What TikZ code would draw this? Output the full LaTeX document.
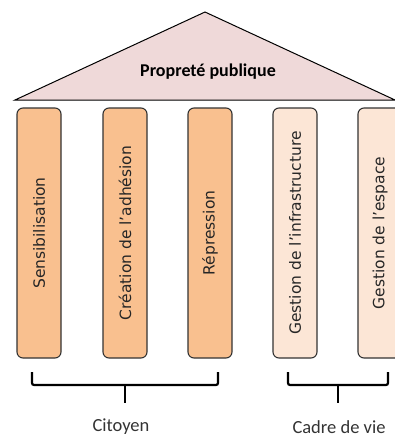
\documentclass[tikz,border=0pt]{standalone}
\usepackage{fontspec}
\setmainfont{Carlito}
\newfontfamily\pilierfont{DejaVu Sans}
\definecolor{toit}{HTML}{EFD9D9}
\definecolor{orangefonce}{HTML}{F9C08F}
\definecolor{orangeclair}{HTML}{FCE6D6}
\begin{document}
\begin{tikzpicture}[x=1pt,y=-1pt,
  pilier/.style={rectangle,rounded corners=6pt,draw=black!80,line width=1.1pt,
    minimum width=250pt,minimum height=44pt,rotate=90,text=black!85,
    font=\pilierfont\fontsize{15.5}{17}\selectfont},
  accolade/.style={line width=2.2pt,rounded corners=2pt},
  legende/.style={text=black!80,font=\fontsize{18.5}{20}\selectfont}]
\useasboundingbox (0,0) rectangle (395,437);
\clip (0,0) rectangle (395,437);

% toit
\draw[fill=toit,line width=1pt] (15,100)--(205,12)--(395,100)--cycle;
\node (titre) at (208,72)[font=\bfseries\fontsize{18}{20}\selectfont]{Propreté publique};

% piliers
\node (p1) at (39,233)[pilier,fill=orangefonce]{Sensibilisation};
\node (p2) at (125,233)[pilier,fill=orangefonce]{Création de l’adhésion};
\node (p3) at (210,233)[pilier,fill=orangefonce]{Répression};
\node (p4) at (295,233)[pilier,fill=orangeclair]{Gestion de l’infrastructure};
\node (p5) at (380,233)[pilier,fill=orangeclair]{Gestion de l’espace};

% accolades
\coordinate (a1) at (32,372);
\coordinate (a2) at (218,372);
\coordinate (a3) at (125,403);
\draw[accolade] (a1)--(32,385)--(218,385)--(a2);
\draw[accolade] (125,385)--(a3);
\coordinate (b1) at (288,372);
\coordinate (b2) at (388,372);
\coordinate (b3) at (338,403);
\draw[accolade] (b1)--(288,385)--(388,385)--(b2);
\draw[accolade] (338,385)--(b3);

\node (citoyen) at (121,427)[legende]{Citoyen};
\node (cadre) at (339,427)[legende]{Cadre de vie};
\end{tikzpicture}
\end{document}
